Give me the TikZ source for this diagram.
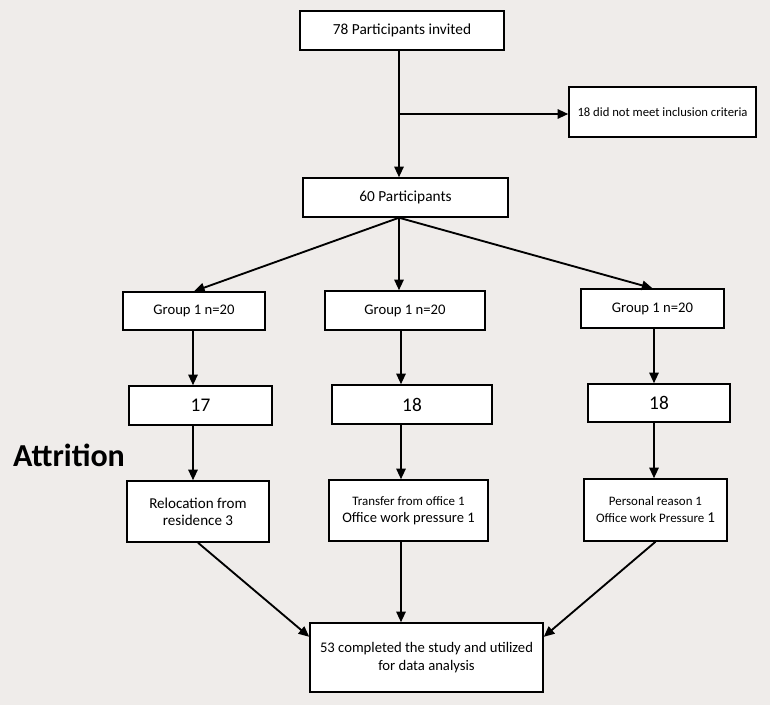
\documentclass[tikz,border=0pt]{standalone}
\usepackage{fontspec}
\setmainfont{Carlito}
\usepackage{tikz}
\usetikzlibrary{arrows.meta}
\definecolor{bgcol}{RGB}{239,236,234}

\begin{document}
\begin{tikzpicture}[x=0.75pt,y=-0.75pt,
  box/.style={draw,line width=1.1pt,fill=white,inner sep=2pt,align=center},
  arr/.style={line width=1.4pt,-{Triangle[length=8pt,width=7pt]}}]
\fill[bgcol] (0,0) rectangle (770,705);
\useasboundingbox (0,0) rectangle (770,705);

\node[box,minimum width=153pt,minimum height=29.25pt,font=\fontsize{11.5}{13}\selectfont] (invited) at (402,30.5) {78 Participants invited};
\node[box,minimum width=140.25pt,minimum height=37.5pt,font=\fontsize{9.5}{12}\selectfont] (excl) at (662.5,112) {18 did not meet inclusion criteria};
\node[box,minimum width=153.75pt,minimum height=29.25pt,font=\fontsize{11.5}{13}\selectfont] (sixty) at (405.5,197.5) {60 Participants};

\node[box,minimum width=106.5pt,minimum height=28.5pt,font=\fontsize{11}{13}\selectfont] (g1) at (194,311) {Group 1 n=20};
\node[box,minimum width=120pt,minimum height=29.25pt,font=\fontsize{11}{13}\selectfont] (g2) at (405,310.5) {Group 1 n=20};
\node[box,minimum width=107.25pt,minimum height=29.25pt,font=\fontsize{11}{13}\selectfont] (g3) at (652.5,308.5) {Group 1 n=20};

\node[box,minimum width=107.25pt,minimum height=29.25pt,font=\fontsize{14.5}{16}\selectfont] (n1) at (200.5,405.5) {17};
\node[box,minimum width=120pt,minimum height=29.25pt,font=\fontsize{14.5}{16}\selectfont] (n2) at (412,404.5) {18};
\node[box,minimum width=106.5pt,minimum height=28.5pt,font=\fontsize{14.5}{16}\selectfont] (n3) at (659,403) {18};

\node[font=\fontsize{24}{26}\selectfont\bfseries] (attr) at (69,455) {Attrition};

\node[box,minimum width=106.5pt,minimum height=45.75pt,font=\fontsize{11.3}{12.8}\selectfont] (r1) at (198,511.5) {Relocation from\\residence 3};
\node[box,minimum width=119.25pt,minimum height=45.75pt,font=\fontsize{10.9}{12.8}\selectfont] (r2) at (408.5,510.5) {{\fontsize{9.7}{12.8}\selectfont Transfer from office 1}\\Office work pressure 1};
\node[box,minimum width=107.25pt,minimum height=46.5pt,font=\fontsize{9.7}{12.8}\selectfont] (r3) at (655.5,510) {Personal reason 1\\Office work Pressure {\fontsize{11.3}{12.8}\selectfont 1}};

\node[box,minimum width=174.75pt,minimum height=51.75pt,font=\fontsize{11}{13.3}\selectfont] (final) at (426.5,657.5) {53 completed the study and utilized\\for data analysis};

% columns of the vertical arrows
\coordinate (topcol) at (399,0);
\coordinate (lcol) at (193,0);
\coordinate (mcol) at (401,0);
\coordinate (rcol) at (654,0);
\coordinate (split) at (399,114);

\draw[arr] (invited.south -| topcol) -- (sixty.north -| topcol);
\draw[arr] (split) -- (excl.west |- split);

\draw[arr] (sixty.south -| topcol) -- (g1.north);
\draw[arr] (sixty.south -| topcol) -- (g2.north -| topcol);
\draw[arr] (sixty.south -| topcol) -- (g3.north);

\draw[arr] (g1.south -| lcol) -- (n1.north -| lcol);
\draw[arr] (g2.south -| mcol) -- (n2.north -| mcol);
\draw[arr] (g3.south -| rcol) -- (n3.north -| rcol);

\draw[arr] (n1.south -| lcol) -- (r1.north -| lcol);
\draw[arr] (n2.south -| mcol) -- (r2.north -| mcol);
\draw[arr] (n3.south -| rcol) -- (r3.north -| rcol);

\draw[arr] (r1.south) -- (final.170);
\draw[arr] (r2.south -| mcol) -- (final.north -| mcol);
\draw[arr] (r3.south) -- (final.10);
\end{tikzpicture}
\end{document}
